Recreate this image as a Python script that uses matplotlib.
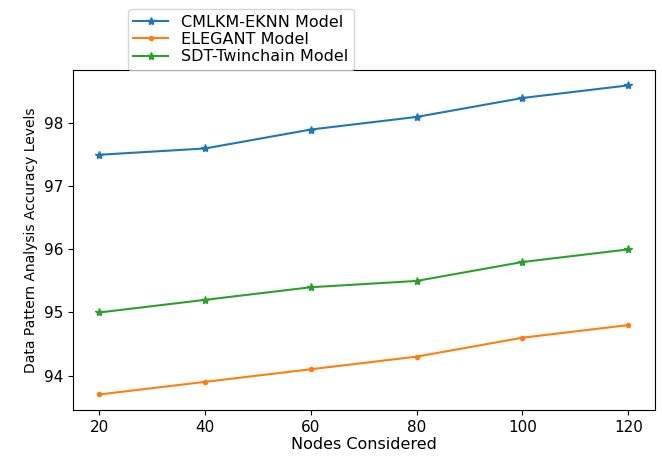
import numpy as np
import matplotlib
matplotlib.use('Agg')
import matplotlib.pyplot as plt

nodes = [20, 40, 60, 80, 100, 120]
cmlkm = [97.5, 97.6, 97.9, 98.1, 98.4, 98.6]
elegant = [93.7, 93.9, 94.1, 94.3, 94.6, 94.8]
sdt = [95.0, 95.2, 95.4, 95.5, 95.8, 96.0]

fig = plt.figure(figsize=(6.62, 4.57), dpi=100)
ax = fig.add_axes([0.110, 0.103, 0.879, 0.744])

ax.plot(nodes, cmlkm, marker='*', label='CMLKM-EKNN Model')
ax.plot(nodes, elegant, marker='.', label='ELEGANT Model')
ax.plot(nodes, sdt, marker='*', label='SDT-Twinchain Model')

ax.tick_params(labelsize=11)
ax.set_xlabel('Nodes Considered', fontsize=11.5, labelpad=2)
ax.set_ylabel('Data Pattern Analysis Accuracy Levels', fontsize=10)
ax.legend(loc='lower left', bbox_to_anchor=(0.094, 1.0), fontsize=11.5,
          labelspacing=0.15, handlelength=2.2, borderpad=0.35, borderaxespad=0)

plt.savefig('out.png', dpi=100)
